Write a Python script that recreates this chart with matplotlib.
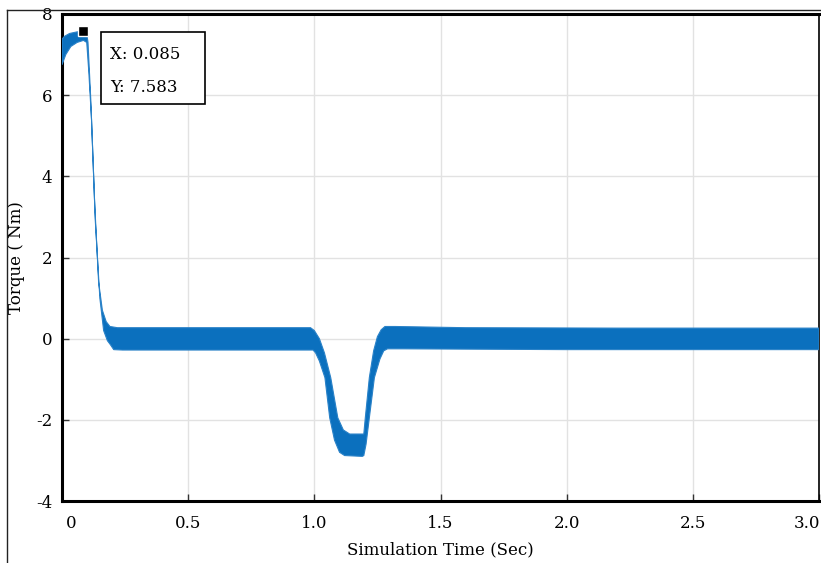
import numpy as np
import matplotlib
matplotlib.use("Agg")
import matplotlib.pyplot as plt
import matplotlib.transforms as mtransforms
from matplotlib.lines import Line2D
from matplotlib.patches import Rectangle

# upper / lower envelope of the (fast oscillating) torque band
t_upper = [0.0, 0.01, 0.03, 0.06, 0.085, 0.097, 0.103, 0.114, 0.129, 0.145, 0.16,
           0.175, 0.19, 0.22, 0.5, 0.985, 1.0, 1.02, 1.04, 1.065, 1.093, 1.115,
           1.14, 1.196, 1.202, 1.218, 1.235, 1.25, 1.265, 1.28, 1.32, 1.6, 2.2, 3.0]
torque_upper = [7.38, 7.45, 7.52, 7.56, 7.583, 7.57, 7.3, 5.9, 3.4, 1.4, 0.7,
                0.42, 0.3, 0.27, 0.27, 0.27, 0.2, 0.0, -0.35, -0.96, -1.95, -2.25,
                -2.35, -2.35, -1.95, -0.96, -0.3, 0.05, 0.22, 0.3, 0.3, 0.27, 0.26, 0.26]

t_lower = [0.0, 0.015, 0.035, 0.06, 0.085, 0.098, 0.106, 0.117, 0.132, 0.15, 0.165,
           0.18, 0.192, 0.205, 0.24, 0.5, 0.995, 1.005, 1.02, 1.042, 1.061, 1.08,
           1.1, 1.12, 1.19, 1.196, 1.205, 1.218, 1.238, 1.26, 1.275, 1.29, 1.35,
           2.0, 3.0]
torque_lower = [6.75, 7.0, 7.2, 7.3, 7.35, 7.3, 6.6, 5.4, 2.9, 1.0, 0.2,
                -0.05, -0.15, -0.27, -0.28, -0.28, -0.28, -0.35, -0.55, -0.96, -1.95, -2.5,
                -2.8, -2.88, -2.9, -2.88, -2.6, -1.95, -0.96, -0.5, -0.3, -0.25, -0.25,
                -0.27, -0.27]

# data tip
tip_x = 0.085
tip_y = 7.583

x_ticks = [0, 0.5, 1.0, 1.5, 2.0, 2.5, 3.0]
x_labels = ["0", "0.5", "1.0", "1.5", "2.0", "2.5", "3.0"]
y_ticks = [-4, -2, 0, 2, 4, 6, 8]

plt.rcParams['font.family'] = ['DejaVu Serif']
plt.rcParams['axes.unicode_minus'] = False

W, H = 821, 563
fig = plt.figure(figsize=(W / 100, H / 100), dpi=100)
ax = fig.add_axes([62 / W, (H - 501) / H, (819 - 62) / W, (501 - 14) / H])

# band
poly_x = np.concatenate([t_upper, t_lower[::-1]])
poly_y = np.concatenate([torque_upper, torque_lower[::-1]])
ax.fill(poly_x, poly_y, color="#0b70be", lw=0.8, ec="#2a82c8", zorder=3)

# data tip marker + box
ax.plot([tip_x], [tip_y], marker="s", ms=6.5, mfc="black", mec="white", mew=1, zorder=5)
ax.add_patch(Rectangle((0.155, 5.78), 0.412, 1.78, fc="white", ec="black", lw=1.2, zorder=6))
ax.text(0.19, 7.0, f"X: {tip_x}", fontsize=12, va="center", zorder=7)
ax.text(0.19, 6.2, f"Y: {tip_y}", fontsize=12, va="center", zorder=7)

ax.set_xlim(0, 3.0)
ax.set_ylim(-4, 8)
ax.set_xticks(x_ticks)
ax.set_xticklabels(x_labels)
ax.set_yticks(y_ticks)
ax.tick_params(direction="in", length=5, width=1, labelsize=12, color="#333333")
ax.tick_params(axis="x", pad=10)
ax.tick_params(axis="y", pad=7)
ax.grid(True, color="#e2e2e2", lw=1)
ax.set_axisbelow(True)
for s in ax.spines.values():
    s.set_linewidth(2.2)
ax.spines["right"].set_linewidth(1.2)

# first / last x labels sit inside the axis ends
xl = ax.get_xticklabels()
xl[0].set_ha("left")
xl[0].set_transform(xl[0].get_transform() + mtransforms.ScaledTranslation(3 / 72, 0, fig.dpi_scale_trans))
xl[-1].set_ha("right")
xl[-1].set_transform(xl[-1].get_transform() + mtransforms.ScaledTranslation(1 / 72, 0, fig.dpi_scale_trans))

ax.set_xlabel("Simulation Time (Sec)", fontsize=12, labelpad=7)
ax.set_ylabel("Torque ( Nm)", fontsize=12, labelpad=8)

# outer frame lines (left and top)
fig.add_artist(Line2D([7 / W, 7 / W], [0, 1 - 10 / H], transform=fig.transFigure, color="#222222", lw=1))
fig.add_artist(Line2D([7 / W, 1], [1 - 10 / H, 1 - 10 / H], transform=fig.transFigure, color="#222222", lw=1))

fig.savefig("out.png", dpi=100)
